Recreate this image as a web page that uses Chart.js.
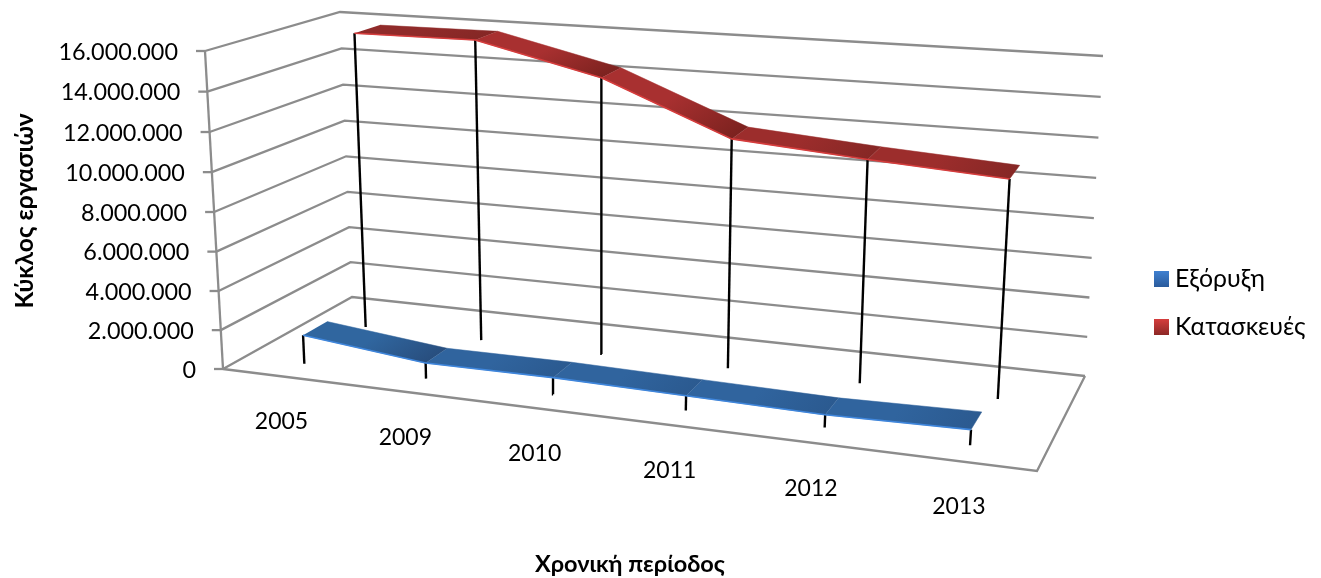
<!DOCTYPE html>
<html lang="el">
<head>
<meta charset="utf-8">
<title>Κύκλος εργασιών</title>
<script src="https://cdn.jsdelivr.net/npm/chart.js@4"></script>
<style>
	html, body { margin: 0; background: #fff; }
	canvas { display: block; }
</style>
</head>
<body>
<canvas id="graph3d" width="1321" height="578"></canvas>
<script>
const categories = ['2005', '2009', '2010', '2011', '2012', '2013'];
const seriesNames = ['Εξόρυξη', 'Κατασκευές'];
const miningValues = [1480000, 800000, 830000, 720000, 610000, 740000];
const constructionValues = [15750000, 15800000, 14300000, 11700000, 11200000, 10800000];
const tickValues = [0, 2000000, 4000000, 6000000, 8000000, 10000000, 12000000, 14000000, 16000000];
const tickLabels = ['0', '2.000.000', '4.000.000', '6.000.000', '8.000.000', '10.000.000', '12.000.000', '14.000.000', '16.000.000'];
const yTitle = 'Κύκλος εργασιών';
const xTitle = 'Χρονική περίοδος';

const FONT = 'Lato, "Open Sans", sans-serif';
const GRID = '#8c8c8c';

const canvas = document.getElementById('graph3d');

// corners of the 3d box: [left/right][bottom/top][front/back]
const corners = [
	[[[223, 369], [352, 297]], [[205, 51], [340, 12]]],
	[[[1037, 471], [1085, 376]], [[1064, 114], [1103, 56]]]
];
const weights = [0.875, 0.975, 0.63];

// rational trilinear map, gives the perspective of the box
function project(u, v, w) {
	const su = [1 - u, u * weights[0]], sv = [1 - v, v * weights[1]], sw = [1 - w, w * weights[2]];
	let x = 0, y = 0, d = 0;
	for (let a = 0; a < 2; ++a) {
		for (let b = 0; b < 2; ++b) {
			for (let c = 0; c < 2; ++c) {
				const k = su[a] * sv[b] * sw[c];
				x += corners[a][b][c][0] * k;
				y += corners[a][b][c][1] * k;
				d += k;
			}
		}
	}
	return { x: x / d, y: y / d };
}

const catU = i => (i + 0.5) / categories.length;
const valV = val => val / tickValues[tickValues.length - 1];

let datasets = [];
function addLine(points, color, width) {
	datasets.push({ data: points, showLine: true, borderColor: color, borderWidth: width, pointRadius: 0, fill: false, order: -datasets.length });
}
function addPoly(points, color) {
	datasets.push({ data: points, showLine: true, borderColor: color, borderWidth: 0.5, backgroundColor: color, pointRadius: 0, fill: 'shape', order: -datasets.length });
}

// gradient runs across the ribbon segment, with its bands parallel to the depth edge
function segmentGradient(a, b, c, from, to) {
	const dx = c.x - b.x, dy = c.y - b.y;
	const nx = -dy, ny = dx;
	const k = ((b.x - a.x) * nx + (b.y - a.y) * ny) / (nx * nx + ny * ny);
	const g = canvas.getContext('2d').createLinearGradient(a.x, a.y, a.x + nx * k, a.y + ny * k);
	g.addColorStop(0, from);
	g.addColorStop(0.45, from);
	g.addColorStop(1, to);
	return g;
}

// gridlines on the walls, then the floor outline and value axis
for (const val of tickValues) {
	const v = valV(val);
	addLine([project(0, v, 0), project(0, v, 1), project(1, v, 1)], GRID, 2.3);
	const p = project(0, v, 0);
	addLine([{ x: p.x - 9, y: p.y }, p], GRID, 2.3);
}
addLine([project(0, 0, 0), project(1, 0, 0), project(1, 0, 1)], GRID, 2.3);
addLine([project(0, 0, 0), project(0, 1, 0)], GRID, 2.3);

function addSeries(values, w, depth, shades, edge) {
	for (let i = 0; i < values.length; ++i) {
		addLine([project(catU(i), 0, w), project(catU(i), valV(values[i]), w)], '#000', 2.4);
	}
	for (let i = 0; i < values.length - 1; ++i) {
		const a = project(catU(i), valV(values[i]), w);
		const b = project(catU(i + 1), valV(values[i + 1]), w);
		const c = project(catU(i + 1), valV(values[i + 1]), w + depth);
		const d = project(catU(i), valV(values[i]), w + depth);
		addPoly([a, b, c, d], segmentGradient(a, b, c, shades[i][0], shades[i][1]));
	}
	addLine(values.map((val, i) => project(catU(i), valV(val), w)), edge, 1.6);
}

const redFirst = ['#902b2a', '#852725'];
const redLast = ['#9c2d2c', '#862725'];
const redSteep = ['#a83030', '#7c221f'];
const blueFlat = ['#30649e', '#2b5a90'];
const blueSteep = ['#30669f', '#284e7e'];

addSeries(constructionValues, 0.765, 0.15, [redFirst, redSteep, redSteep, redLast, redLast], '#d63d3d');
addSeries(miningValues, 0.25, 0.23, [blueSteep, blueFlat, blueFlat, blueFlat, blueFlat], '#3f86dc');

// axis text and legend sit on the same projection, so they are drawn after the marks
const labels3d = {
	id: 'labels3d',
	afterDraw(chart) {
		const ctx = chart.ctx;
		ctx.save();
		ctx.fillStyle = '#000';
		ctx.font = '23.4px ' + FONT;
		ctx.textBaseline = 'middle';
		ctx.textAlign = 'right';
		tickValues.forEach((val, i) => {
			const p = project(0, valV(val), 0);
			ctx.fillText(tickLabels[i], p.x - 27, p.y + 1);
		});
		ctx.font = '23px ' + FONT;
		ctx.textAlign = 'center';
		categories.forEach((cat, i) => {
			const p = project(catU(i), 0, 0);
			ctx.fillText(cat, p.x - 1.5, p.y + 45.5);
		});

		ctx.font = 'bold 23.5px ' + FONT;
		ctx.fillText(xTitle, 630, 564);
		ctx.font = 'bold 24.6px ' + FONT;
		ctx.save();
		ctx.translate(25, 211);
		ctx.rotate(-Math.PI / 2);
		ctx.fillText(yTitle, 0, 0);
		ctx.restore();

		const swatches = [
			{ y: 271, from: '#3f80d0', to: '#2a5b9c' },
			{ y: 319, from: '#d53d3d', to: '#8c2826' }
		];
		ctx.font = '24.8px ' + FONT;
		ctx.textAlign = 'left';
		seriesNames.forEach((name, i) => {
			const s = swatches[i];
			const g = ctx.createLinearGradient(0, s.y, 0, s.y + 16);
			g.addColorStop(0, s.from);
			g.addColorStop(1, s.to);
			ctx.fillStyle = g;
			ctx.fillRect(1154, s.y, 15, 16);
			ctx.fillStyle = '#000';
			ctx.fillText(name, 1175, s.y + 8);
		});
		ctx.restore();
	}
};

new Chart(canvas, {
	type: 'scatter',
	data: { datasets: datasets },
	plugins: [labels3d],
	options: {
		responsive: false,
		animation: false,
		layout: { padding: 0 },
		plugins: { legend: { display: false }, tooltip: { enabled: false } },
		elements: { line: { tension: 0 } },
		scales: {
			x: { type: 'linear', display: false, min: 0, max: 1321 },
			y: { type: 'linear', display: false, min: 0, max: 578, reverse: true }
		}
	}
});
</script>
</body>
</html>
